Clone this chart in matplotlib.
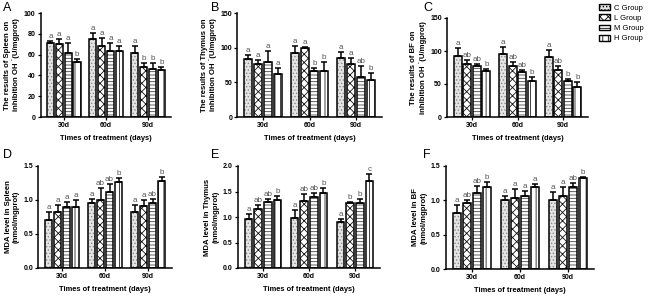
import matplotlib
matplotlib.use("Agg")
import matplotlib.pyplot as plt
from matplotlib.patches import Patch
import numpy as np

plt.rcParams['font.family'] = ['Liberation Sans', 'DejaVu Sans']
plt.rcParams['hatch.linewidth'] = 0.6

times = ["30d", "60d", "90d"]
groups = ["C Group", "L Group", "M Group", "H Group"]

# values per panel: rows = groups (C, L, M, H), cols = times
A_vals = [[71, 75, 62], [70, 68, 48], [62, 63, 46.5], [53, 63.5, 45]]
A_err = [[2, 6, 6], [5, 8, 4], [9, 8, 5], [3, 5, 3]]
A_let = [["a", "a", "a"], ["a", "a", "b"], ["a", "a", "b"], ["b", "a", "b"]]

B_vals = [[83, 92, 85], [76, 99, 77], [80, 66, 57], [62, 66, 53]]
B_err = [[6, 10, 9], [6, 2, 8], [15, 5, 17], [8, 13, 10]]
B_let = [["a", "a", "a"], ["a", "a", "a"], ["a", "b", "ab"], ["a", "b", "b"]]

C_vals = [[93, 95, 91], [80, 77, 71], [77.5, 68.5, 54.5], [70, 54.5, 46]]
C_err = [[12, 11, 10], [7, 6, 6], [3, 2.5, 3], [2, 6, 7.5]]
C_let = [["a", "a", "a"], ["ab", "ab", "ab"], ["ab", "ab", "b"], ["b", "b", "b"]]

D_vals = [[0.70, 0.95, 0.82], [0.82, 1.00, 0.91], [0.89, 1.12, 0.95], [0.89, 1.27, 1.28]]
D_err = [[0.12, 0.07, 0.11], [0.10, 0.17, 0.09], [0.08, 0.12, 0.07], [0.11, 0.06, 0.06]]
D_let = [["a", "a", "a"], ["a", "ab", "a"], ["a", "ab", "ab"], ["a", "b", "b"]]

E_vals = [[0.97, 0.99, 0.91], [1.15, 1.31, 1.27], [1.30, 1.40, 1.27], [1.33, 1.47, 1.70]]
E_err = [[0.08, 0.15, 0.05], [0.08, 0.15, 0.03], [0.06, 0.07, 0.09], [0.09, 0.09, 0.15]]
E_let = [["a", "a", "a"], ["ab", "ab", "b"], ["ab", "ab", "b"], ["b", "b", "c"]]

F_vals = [[0.81, 1.01, 1.00], [0.96, 1.04, 1.07], [1.11, 1.06, 1.20], [1.20, 1.19, 1.33]]
F_err = [[0.12, 0.05, 0.12], [0.04, 0.13, 0.13], [0.10, 0.07, 0.05], [0.07, 0.05, 0.01]]
F_let = [["a", "a", "a"], ["ab", "a", "a"], ["ab", "a", "ab"], ["b", "a", "b"]]

A_ylab = "The results of Spleen on\ninhibition OH \u02d9(U/mgprot)"
B_ylab = "The results of Thymus on\ninhibition OH \u02d9(U/mgprot)"
C_ylab = "The results of BF on\ninhibition OH \u02d9(U/mgprot)"
D_ylab = "MDA level in Spleen\n(nmol/mgprot)"
E_ylab = "MDA level in Thymus\n(nmol/mgprot)"
F_ylab = "MDA level in BF\n(nmol/mgprot)"

# (facecolor, hatch, hatch colour)
styles = [
    ("#e4e4e4", ".....", "#8a8a8a"),
    ("white", "xxxx", "#111111"),
    ("white", "-----", "#444444"),
    ("white", "|||", "#222222"),
]

W, H = 650, 297
fig = plt.figure(figsize=(6.5, 2.97), dpi=100)

def add_ax(l, r, t, b):
    return fig.add_axes([l / W, 1 - b / H, (r - l) / W, (b - t) / H])

panels = [
    ("A", A_vals, A_err, A_let, A_ylab, (40.5, 171.4, 13, 117), 100, [0, 20, 40, 60, 80, 100], None, (3, 2)),
    ("B", B_vals, B_err, B_let, B_ylab, (237.4, 381.6, 13, 117), 150, [0, 50, 100, 150], None, (211, 2)),
    ("C", C_vals, C_err, C_let, C_ylab, (447, 588, 18, 117), 150, [0, 50, 100, 150], None, (423, 2)),
    ("D", D_vals, D_err, D_let, D_ylab, (38.4, 171.7, 166, 268), 1.5, [0, 0.5, 1.0, 1.5], "%.1f", (3, 149)),
    ("E", E_vals, E_err, E_let, E_ylab, (237.7, 380.3, 166, 268), 2.0, [0, 0.5, 1.0, 1.5, 2.0], "%.1f", (211, 149)),
    ("F", F_vals, F_err, F_let, F_ylab, (445.6, 594.4, 166, 269), 1.5, [0, 0.5, 1.0, 1.5], "%.1f", (423, 149)),
]

x = np.arange(len(times))
pitch = 0.21
bw = 0.17
offsets = (np.arange(4) - 1.5) * pitch

for letter, vals, errs, lets, ylab, box, ymax, yticks, fmt, lpos in panels:
    ax = add_ax(*box)
    for gi in range(4):
        fc, hatch, hc = styles[gi]
        xs = x + offsets[gi]
        ax.bar(xs, vals[gi], width=bw, facecolor=fc, hatch=hatch, edgecolor=hc,
               linewidth=0, zorder=2)
        ax.bar(xs, vals[gi], width=bw, facecolor="none", edgecolor="black",
               linewidth=1.1, zorder=2.5)
        ax.errorbar(xs, vals[gi], yerr=[np.zeros(3), errs[gi]], fmt="none",
                    ecolor="black", elinewidth=1.1, capsize=2.2, capthick=1.1, zorder=3)
        for xi, v, e, t in zip(xs, vals[gi], errs[gi], lets[gi]):
            ax.text(xi, v + e + ymax * 0.01, t, ha="center", va="bottom",
                    fontsize=5.8, color="#555555")
    ax.set_xlim(-0.55, 2.55)
    ax.set_ylim(0, ymax)
    ax.set_yticks(yticks)
    if fmt:
        ax.set_yticklabels([fmt % v for v in yticks])
    ax.set_xticks(x)
    ax.set_xticklabels(times)
    for s in ["top", "right"]:
        ax.spines[s].set_visible(False)
    for s in ["left", "bottom"]:
        ax.spines[s].set_linewidth(1.1)
    ax.tick_params(axis="both", labelsize=5, width=0.9, length=2.5, pad=1.2)
    for lab in ax.get_xticklabels() + ax.get_yticklabels():
        lab.set_fontweight("bold")
    ax.set_xlabel("Times of treatment (days)", fontsize=5.4, fontweight="bold", labelpad=4)
    ax.set_ylabel(ylab, fontsize=5.6, fontweight="bold", labelpad=2.5, linespacing=1.3)
    fig.text(lpos[0] / W, 1 - lpos[1] / H, letter, fontsize=9, va="top", ha="left")

handles = [Patch(facecolor=st[0], hatch=st[1], edgecolor="black", linewidth=1.0) for st in styles]
fig.legend(handles, groups, loc="upper left", bbox_to_anchor=(599 / W, 1 - 4 / H),
           frameon=False, fontsize=5.5, handlelength=1.5, handleheight=0.8,
           handletextpad=0.5, labelspacing=0.35, borderaxespad=0, borderpad=0)

fig.savefig("out.png", dpi=100)
